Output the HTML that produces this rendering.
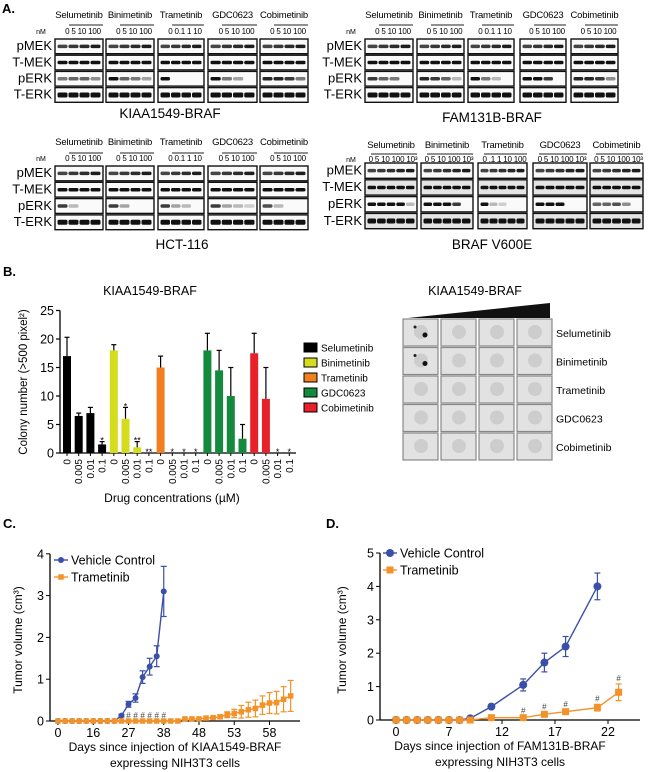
<!DOCTYPE html>
<html><head><meta charset="utf-8"><style>
body{margin:0;background:#fff}
svg{display:block;font-family:"Liberation Sans",Arial,sans-serif}
</style></head><body>
<svg id="fig" width="650" height="772" viewBox="0 0 650 772" xmlns="http://www.w3.org/2000/svg">
<text x="2" y="13" font-size="13" font-weight="bold">A.</text>
<text x="3" y="276" font-size="13" font-weight="bold">B.</text>
<text x="3" y="528" font-size="13" font-weight="bold">C.</text>
<text x="326" y="528" font-size="13" font-weight="bold">D.</text>
<g id="blots"></g>
<g id="chartB"></g>
<g id="grid"></g>
<g id="chartC"></g>
<g id="chartD"></g>
</svg>
<script>
// ---------- Chart B data ----------
const bCategories = ["0","0.005","0.01","0.1"];
const bDrugs = ["Selumetinib","Binimetinib","Trametinib","GDC0623","Cobimetinib"];
const bColors = ["#000000","#d4dc1c","#f07f20","#138a3c","#e8202a"];
const bValues = [[17,6.5,7,1.5],[18,6,1,0],[15,0,0,0],[18,14.5,10,2.5],[17.5,9.5,0,0]];
const bErrors = [[3.3,0.5,1,0.5],[1,2,1,0],[2,0,0,0],[3,3.5,5,2.5],[3.5,5.5,0,0]];
const bStars = [["","","","*"],["","*","**","**"],["","*","*","*"],["","","",""],["","","*","*"]];
const bTicks = [0,5,10,15,20,25];
// ---------- Chart C data ----------
const cTickLabels = ["0","16","27","38","48","53","58"];
const cTickIdx = [0,5,10,15,20,25,30];
const cVehIdx = [0,1,2,3,4,5,6,7,8,9,10,11,12,13,14,15];
const cVehVal = [0,0,0,0,0,0,0,0,0,0.13,0.4,0.55,1.05,1.3,1.55,3.1];
const cVehErr = [0,0,0,0,0,0,0,0,0,0.03,0.07,0.1,0.15,0.2,0.25,0.6];
const cTramVal = [0,0,0,0,0,0,0,0,0,0,0,0,0,0,0,0,0,0,0.05,0.05,0.05,0.07,0.08,0.1,0.15,0.18,0.22,0.27,0.3,0.38,0.43,0.44,0.52,0.6];
const cTramErr = [0,0,0,0,0,0,0,0,0,0,0,0,0,0,0,0,0,0,0,0,0,0,0.02,0.05,0.07,0.1,0.15,0.18,0.2,0.22,0.25,0.27,0.3,0.37];
const cHashIdx = [10,11,12,13,14,15];
const cYTicks = [0,1,2,3,4];
// ---------- Chart D data ----------
const dTickLabels = ["0","7","12","17","22"];
const dTickIdx = [0,5,10,15,20];
const dVehIdx = [0,1,2,3,4,5,6,7,9,12,14,16,19];
const dVehVal = [0,0,0,0,0,0,0,0.05,0.4,1.05,1.72,2.2,4.0];
const dVehErr = [0,0,0,0,0,0,0,0,0.05,0.18,0.28,0.3,0.4];
const dTramIdx = [0,1,2,3,4,5,6,7,9,12,14,16,19,21];
const dTramVal = [0,0,0,0,0,0,0,0,0.07,0.07,0.17,0.25,0.37,0.83];
const dTramErr = [0,0,0,0,0,0,0,0,0.03,0.03,0.05,0.05,0.1,0.25];
const dHashIdx = [12,14,16,19,21];
const dYTicks = [0,1,2,3,4,5];

const NS="http://www.w3.org/2000/svg";
function mk(parent,tag,attrs,text){const e=document.createElementNS(NS,tag);for(const k in attrs)e.setAttribute(k,attrs[k]);if(text!==undefined)e.textContent=text;parent.appendChild(e);return e;}

// ---------- Blots ----------
const blots=document.getElementById('blots');
const drugNames=["Selumetinib","Binimetinib","Trametinib","GDC0623","Cobimetinib"];
const rows=["pMEK","T-MEK","pERK","T-ERK"];
const groups=[
 {boxes:[[55,103],[106,154],[158,204],[208,257],[260,308]],y0:39,rh:16.2,lanes:4,ny:18,ly:25,my:34,cell:"KIAA1549-BRAF",cx:170,cy:118,conc:["0 5 10 100","0 5 10 100","0 0.1 1 10","0 5 10 100","0 5 10 100"],perk:[[.5,.6,.6,.4],[1,.6,.5,.3],[1,0,0,0],[1,.5,.3,0],[.9,.9,.8,.5]]},
 {boxes:[[55,103],[106,154],[158,204],[208,257],[260,308]],y0:166,rh:16.3,lanes:4,ny:145,ly:153,my:161,cell:"HCT-116",cx:182,cy:249,conc:["0 5 10 100","0 5 10 100","0 0.1 1 10","0 5 10 100","0 5 10 100"],perk:[[.8,.2,0,0],[.8,.3,0,0],[.8,.3,.2,0],[.8,.3,.2,.1],[.7,.2,0,0]]},
 {boxes:[[365,413],[417,464],[468,514],[520,566],[571,618]],y0:39,rh:16.2,lanes:4,ny:18,ly:25,my:34,cell:"FAM131B-BRAF",cx:492,cy:122,conc:["0 5 10 100","0 5 10 100","0 0.1 1 10","0 5 10 100","0 5 10 100"],perk:[[.8,.6,.5,0],[.9,.8,.6,.2],[1,.5,.2,0],[1,1,.8,0],[.9,.9,.8,.4]]},
 {boxes:[[365,417],[421,473],[478,527],[533,587],[590,643]],y0:163,rh:16.8,lanes:5,ny:148,ly:154,my:162,cell:"BRAF V600E",cx:492,cy:249,conc:["0 5 10 100 10³","0 5 10 100 10³","0 .1 1 10 100","0 5 10 100 10³","0 5 10 100 10³"],perk:[[1,1,1,1,.2],[1,1,1,.8,0],[1,.2,.1,0,0],[1,1,1,0,0],[.6,.6,.7,.4,0]]}
];
groups.forEach((g,gi)=>{
 g.boxes.forEach((b,bi)=>{
  const cx=(b[0]+b[1])/2;
  const t=mk(blots,'text',{x:cx,y:g.ny,'font-size':9.5,'text-anchor':'middle','letter-spacing':'-0.2'},drugNames[bi]);
  
  
  mk(blots,'line',{x1:b[0]+(g.lanes==5?6:14),x2:b[1],y1:g.ly,y2:g.ly,stroke:'#222','stroke-width':1});
  mk(blots,'text',{x:cx+(g.lanes==5?2:4),y:g.my,'font-size':8,'text-anchor':'middle','letter-spacing':'-0.2'},g.conc[bi]);
  rows.forEach((r,ri)=>{
   const y=g.y0+ri*g.rh;
   const box=mk(blots,'rect',{x:b[0],y:y,width:b[1]-b[0],height:g.rh-1.5,fill:(gi==3&&ri%2==1)?'#e4e4e4':'#fafafa',stroke:'#111','stroke-width':1.4});
   
   
   const lw=(b[1]-b[0]-4)/g.lanes;
   for(let l=0;l<g.lanes;l++){
    let a=1; if(ri==2)a=g.perk[bi][l]; else if(ri==0)a=0.75+0.25*(l/g.lanes);
    if(a<=0.02)continue;
    const h=ri==3?5:3.5;
    mk(blots,'rect',{x:b[0]+2+l*lw+0.5,y:y+(g.rh-1.5)/2-h/2,width:lw-1,height:h,rx:1.5,fill:'#111','fill-opacity':Math.min(1,a*0.9+0.1)});
   }
  });
 });
 rows.forEach((r,ri)=>{
  const t=mk(blots,'text',{x:g.boxes[0][0]-3,y:g.y0+ri*g.rh+g.rh/2+3,'font-size':13,'text-anchor':'end'},r);
  
  
 });
 mk(blots,'text',{x:g.boxes[0][0]-14,y:g.my,'font-size':7,'text-anchor':'middle'},'nM');
 const c=mk(blots,'text',{x:g.cx,y:g.cy,'font-size':13.5,'text-anchor':'middle'},g.cell);
 
 
});

// ---------- Chart B ----------
const B=document.getElementById('chartB');
const bY0=453, bPerUnit=5.7, bX0=67, bStep=11.7, bAxisX=60;
const yB=v=>bY0-v*bPerUnit;
const xB=(d,c)=>bX0+(d*bCategories.length+c)*bStep;
mk(B,'text',{x:150,y:295,'font-size':12.5,'text-anchor':'middle'},'KIAA1549-BRAF');
mk(B,'line',{x1:bAxisX,x2:bAxisX,y1:yB(25),y2:bY0,stroke:'#000','stroke-width':1.3});
mk(B,'line',{x1:bAxisX,x2:296,y1:bY0,y2:bY0,stroke:'#000','stroke-width':1.3});
bTicks.forEach(t=>{
 mk(B,'line',{x1:bAxisX-4,x2:bAxisX,y1:yB(t),y2:yB(t),stroke:'#000','stroke-width':1.2});
 mk(B,'text',{x:bAxisX-6,y:yB(t)+4.5,'font-size':12.5,'text-anchor':'end'},String(t));
});
bDrugs.forEach((d,di)=>{
 bCategories.forEach((c,ci)=>{
  const x=xB(di,ci), v=bValues[di][ci], e=bErrors[di][ci];
  const bar=mk(B,'rect',{x:x-4,y:yB(v),width:8,height:bY0-yB(v),fill:bColors[di]});
  
  
  if(e>0){mk(B,'line',{x1:x,x2:x,y1:yB(v),y2:yB(v+e),stroke:'#000','stroke-width':1.2});
   mk(B,'line',{x1:x-2.5,x2:x+2.5,y1:yB(v+e),y2:yB(v+e),stroke:'#000','stroke-width':1.2});}
  if(bStars[di][ci]) mk(B,'text',{x:x,y:yB(v+e)+2,'font-size':9,'text-anchor':'middle'},bStars[di][ci]);
  mk(B,'line',{x1:x,x2:x,y1:bY0,y2:bY0+3,stroke:'#000','stroke-width':1});
  mk(B,'text',{x:0,y:0,'font-size':10,'text-anchor':'end',transform:`translate(${x+3.5},${bY0+6}) rotate(-90)`},c);
 });
});
mk(B,'text',{x:172,y:502,'font-size':12,'text-anchor':'middle'},'Drug concentrations (µM)');
mk(B,'text',{x:0,y:0,'font-size':11.5,'text-anchor':'middle',transform:'translate(27,382) rotate(-90)'},'Colony number (>500 pixel²)');
bDrugs.forEach((d,di)=>{
 const y=343+di*15;
 const s=mk(B,'rect',{x:304,y:y,width:13,height:9,fill:bColors[di],stroke:'#000','stroke-width':1});
 
 
 mk(B,'text',{x:321,y:y+8.5,'font-size':10},d);
});

// ---------- Image grid ----------
const G=document.getElementById('grid');
mk(G,'text',{x:475,y:295,'font-size':12.5,'text-anchor':'middle'},'KIAA1549-BRAF');
mk(G,'polygon',{points:'408,318 550,303 550,318',fill:'#111'});
const gx=[403,441,479,517], gy=[319,347.5,376,404.5,433];
gy.forEach((y,ri)=>{gx.forEach((x,ci)=>{
 const r=mk(G,'rect',{x:x,y:y,width:35,height:27,fill:'#e2e2e2',stroke:'#888','stroke-width':1.2});
 
 
 mk(G,'circle',{cx:x+18,cy:y+13,r:7,fill:'#cdcdcd'});
 if(ci==0&&ri<2){mk(G,'circle',{cx:x+22,cy:y+16,r:2.5,fill:'#111'});mk(G,'circle',{cx:x+12,cy:y+8,r:1.5,fill:'#222'});}
});
 mk(G,'text',{x:556,y:y+18,'font-size':10.5},bDrugs[ri]);
});

// ---------- Line chart helper ----------
function lineChart(id,o){
 const P=document.getElementById(id);
 const X=i=>o.x0+i*o.dx, Y=v=>o.y0-v*o.py;
 mk(P,'line',{x1:o.ax,x2:o.ax,y1:Y(o.yt[o.yt.length-1]),y2:o.y0,stroke:'#000','stroke-width':1.3});
 mk(P,'line',{x1:o.ax,x2:o.xend,y1:o.y0,y2:o.y0,stroke:'#000','stroke-width':1.3});
 o.yt.forEach(t=>{mk(P,'line',{x1:o.ax-4,x2:o.ax,y1:Y(t),y2:Y(t),stroke:'#000'});
  mk(P,'text',{x:o.ax-6,y:Y(t)+4.5,'font-size':12.5,'text-anchor':'end'},String(t));});
 o.xti.forEach((t,i)=>{mk(P,'line',{x1:X(t),x2:X(t),y1:o.y0,y2:o.y0+4,stroke:'#000'});
  mk(P,'text',{x:X(t),y:o.y0+16,'font-size':12.5,'text-anchor':'middle'},o.xtl[i]);});
 mk(P,'text',{x:o.lx,y:o.y0+30,'font-size':12,'text-anchor':'middle'},o.xl1);
 mk(P,'text',{x:o.lx,y:o.y0+46,'font-size':12,'text-anchor':'middle'},'expressing NIH3T3 cells');
 mk(P,'text',{x:0,y:0,'font-size':12,'text-anchor':'middle',transform:`translate(${o.tx},640) rotate(-90)`},'Tumor volume (cm³)');
 function series(idx,val,err,col,circle,name,sz){
  mk(P,'polyline',{points:idx.map((i,k)=>X(i)+','+Y(val[k])).join(' '),fill:'none',stroke:col,'stroke-width':1.4});
  idx.forEach((i,k)=>{
   if(err[k]>0){mk(P,'line',{x1:X(i),x2:X(i),y1:Y(val[k]-err[k]),y2:Y(val[k]+err[k]),stroke:col,'stroke-width':1.2});
    [val[k]-err[k],val[k]+err[k]].forEach(v=>mk(P,'line',{x1:X(i)-3,x2:X(i)+3,y1:Y(v),y2:Y(v),stroke:col,'stroke-width':1.2}));}
   const m=circle?mk(P,'circle',{cx:X(i),cy:Y(val[k]),r:sz/2,fill:col}):mk(P,'rect',{x:X(i)-sz/2,y:Y(val[k])-sz/2,width:sz,height:sz,fill:col});
   
   
  });
 }
 series(o.vi,o.vv,o.ve,'#3a4fa8',true,'vehicle',o.cs);
 series(o.ti,o.tv,o.te,'#f4922a',false,'trametinib',o.ss);
 o.hash.forEach(i=>{const k=o.ti.indexOf(i);mk(P,'text',{x:X(i),y:Y(o.tv[k]+o.te[k])-3,'font-size':8,'text-anchor':'middle',fill:'#444'},'#');});
 mk(P,'line',{x1:o.lgx,x2:o.lgx+14,y1:o.lgy,y2:o.lgy,stroke:'#3a4fa8','stroke-width':1.4});
 mk(P,'circle',{cx:o.lgx+7,cy:o.lgy,r:o.cs/2,fill:'#3a4fa8'});
 mk(P,'text',{x:o.lgx+17,y:o.lgy+4.5,'font-size':12.5},'Vehicle Control');
 mk(P,'line',{x1:o.lgx,x2:o.lgx+14,y1:o.lgy+17,y2:o.lgy+17,stroke:'#f4922a','stroke-width':1.4});
 mk(P,'rect',{x:o.lgx+7-o.ss/2,y:o.lgy+17-o.ss/2,width:o.ss,height:o.ss,fill:'#f4922a'});
 mk(P,'text',{x:o.lgx+17,y:o.lgy+21.5,'font-size':12.5},'Trametinib');
}
lineChart('chartC',{x0:58,dx:7.05,y0:721,py:41.8,ax:50,xend:300,yt:cYTicks,xti:cTickIdx,xtl:cTickLabels,
 vi:cVehIdx,vv:cVehVal,ve:cVehErr,ti:cTramVal.map((v,i)=>i),tv:cTramVal,te:cTramErr,hash:cHashIdx,
 lx:175,tx:22,xl1:'Days since injection of KIAA1549-BRAF',lgx:54,lgy:560,cs:6,ss:5.5});
lineChart('chartD',{x0:396,dx:10.6,y0:720,py:33.4,ax:380,xend:640,yt:dYTicks,xti:dTickIdx,xtl:dTickLabels,
 vi:dVehIdx,vv:dVehVal,ve:dVehErr,ti:dTramIdx,tv:dTramVal,te:dTramErr,hash:dHashIdx,
 lx:500,tx:346,xl1:'Days since injection of FAM131B-BRAF',lgx:383,lgy:553,cs:8,ss:7});
</script>
</body></html>
